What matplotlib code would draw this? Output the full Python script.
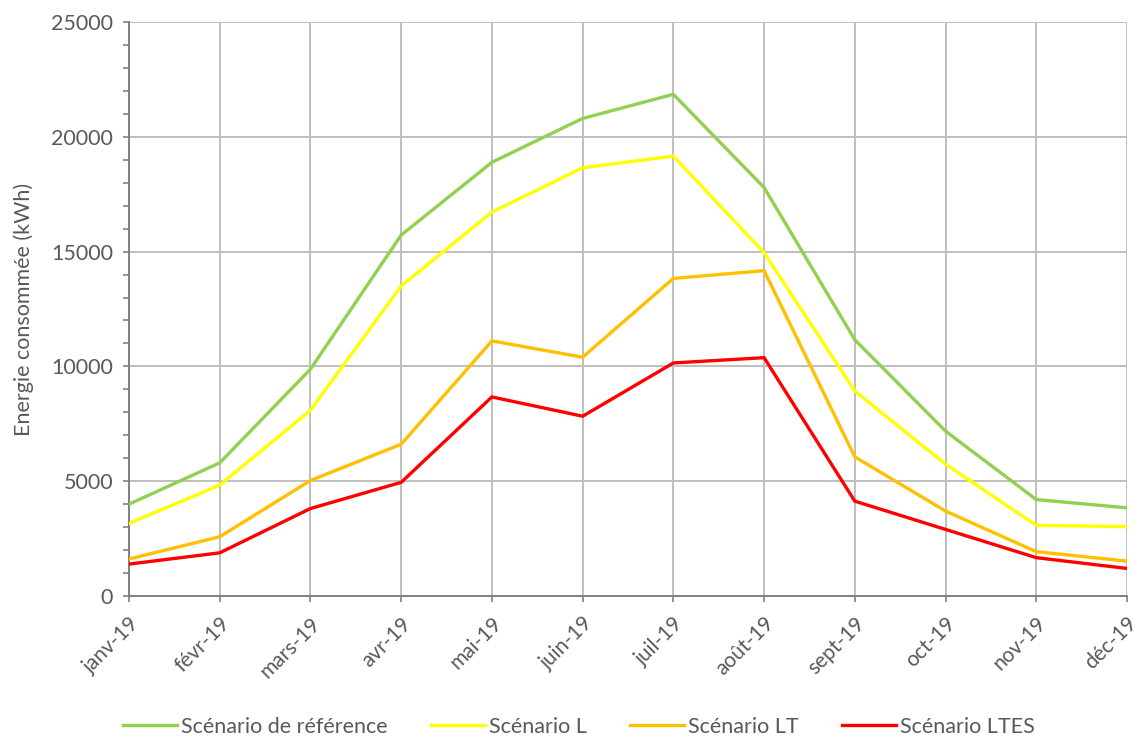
import matplotlib
matplotlib.use("Agg")
import matplotlib.pyplot as plt
from matplotlib.ticker import MultipleLocator
from matplotlib.transforms import ScaledTranslation

plt.rcParams['font.family'] = ['Lato', 'DejaVu Sans']

months = ["janv-19", "févr-19", "mars-19", "avr-19", "mai-19", "juin-19",
          "juil-19", "août-19", "sept-19", "oct-19", "nov-19", "déc-19"]

ref = [4000, 5800, 9880, 15720, 18890, 20800, 21850, 17790, 11160, 7180, 4200, 3840]
scen_l = [3160, 4830, 8090, 13500, 16720, 18650, 19160, 14950, 8930, 5740, 3080, 3020]
scen_lt = [1610, 2580, 5030, 6610, 11110, 10400, 13830, 14170, 6060, 3700, 1930, 1520]
scen_ltes = [1390, 1880, 3810, 4950, 8670, 7830, 10150, 10380, 4130, 2900, 1670, 1200]

series = [
    ("Scénario de référence", ref, "#92D050"),
    ("Scénario L", scen_l, "#FFFF00"),
    ("Scénario LT", scen_lt, "#FFC000"),
    ("Scénario LTES", scen_ltes, "#FF0000"),
]

text_color = "#595959"
grid_color = "#BFBFBF"
fs = 15.5

fig = plt.figure(figsize=(11.34, 7.40), dpi=100)
ax = fig.add_axes([129 / 1134, 1 - 596 / 740, (1127 - 129) / 1134, (596 - 22) / 740])

x = list(range(len(months)))
for name, vals, col in series:
    ax.plot(x, vals, color=col, linewidth=2.4, label=name, solid_joinstyle="miter", zorder=3)

ax.set_xlim(0, len(months) - 1)
ax.set_ylim(0, 25000)
ax.set_xticks(x)
ax.set_xticklabels(months, rotation=45, ha="right", rotation_mode="anchor",
                   fontsize=15, color=text_color)
shift = ScaledTranslation(-9 / 100, 0, fig.dpi_scale_trans)
for lbl in ax.get_xticklabels():
    lbl.set_transform(lbl.get_transform() + shift)

ax.yaxis.set_major_locator(MultipleLocator(5000))
ax.yaxis.set_minor_locator(MultipleLocator(1000))
ax.tick_params(axis="y", which="major", labelsize=fs, labelcolor=text_color,
               color="#808080", length=4.5, width=1.2, pad=7)
ax.tick_params(axis="y", which="minor", color="#808080", length=4.5, width=1.2)
ax.tick_params(axis="x", which="major", color="#808080", length=4.5, width=1.2, pad=8)

ax.grid(True, which="major", color=grid_color, linewidth=1.4, zorder=0)
ax.set_axisbelow(True)
for side in ("top", "right"):
    ax.spines[side].set_visible(False)
for side in ("left", "bottom"):
    ax.spines[side].set_color("#808080")
    ax.spines[side].set_linewidth(1.4)

ax.set_ylabel("Energie consommée (kWh)", fontsize=fs, color=text_color, labelpad=12)

fig.legend(loc="center", bbox_to_anchor=(579 / 1134, 1 - 727 / 740), ncol=4, frameon=False,
           fontsize=fs, labelcolor=text_color, handlelength=2.5, handletextpad=0.2,
           columnspacing=2.0)

fig.savefig("out.png", dpi=100)
